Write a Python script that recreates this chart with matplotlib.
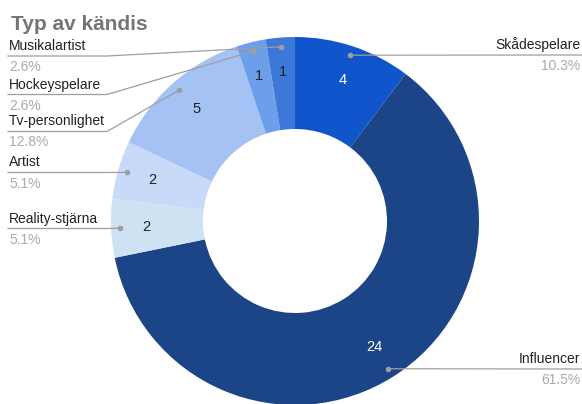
import numpy as np
import matplotlib
matplotlib.use('Agg')
import matplotlib.pyplot as plt

plt.rcParams['font.family'] = ['Liberation Sans', 'DejaVu Sans']

# data (clockwise from top)
categories = ['Skådespelare', 'Influencer', 'Reality-stjärna', 'Artist',
              'Tv-personlighet', 'Hockeyspelare', 'Musikalartist']
counts = [4, 24, 2, 2, 5, 1, 1]
colors = ['#1155cc', '#1c4587', '#cfe2f3', '#c9daf8', '#a4c2f4', '#6d9eeb', '#3c78d8']
value_colors = ['white', 'white', '#222222', '#222222', '#222222', '#222222', '#222222']

# layout (pixels, y measured from top)
W, H = 582, 404
cx, cy, R = 295, 221, 184
hole = 0.5
# label placement: side, y of leader line
label_side = ['right', 'right', 'left', 'left', 'left', 'left', 'left']
label_line_y = [55, 369, 228.5, 172.5, 131.5, 94.5, 56]
elbow_x = 107

fig = plt.figure(figsize=(W / 100, H / 100), dpi=100)
ax = fig.add_axes([0, 0, 1, 1])

wedges, _ = ax.pie(counts, colors=colors, startangle=90, counterclock=False,
                   center=(cx, H - cy), radius=R,
                   wedgeprops=dict(width=R * (1 - hole), edgecolor='none'))
ax.set_xlim(0, W)
ax.set_ylim(0, H)
ax.set_aspect('auto')
ax.axis('off')

total = sum(counts)
line_c = '#9e9e9e'
for i, w in enumerate(wedges):
    ang = np.deg2rad((w.theta1 + w.theta2) / 2)
    # value label inside wedge
    vx = cx + 0.81 * R * np.cos(ang)
    vy = H - cy + 0.81 * R * np.sin(ang)
    ax.text(vx, vy, str(counts[i]), color=value_colors[i], fontsize=10.5,
            ha='center', va='center')
    # leader dot
    dx = cx + 0.95 * R * np.cos(ang)
    dy = H - cy + 0.95 * R * np.sin(ang)
    ax.plot(dx, dy, 'o', ms=4, color=line_c, mec='none', zorder=5)
    ly = H - label_line_y[i]
    pct = '%.1f%%' % (counts[i] / total * 100)
    if label_side[i] == 'left':
        ax.plot([8, elbow_x, dx], [ly, ly, dy], color=line_c, lw=0.9, zorder=4)
        ax.text(9, ly + 6, categories[i], fontsize=10, color='#222222',
                ha='left', va='baseline')
        ax.text(9, ly - 15, pct, fontsize=10, color='#aaaaaa',
                ha='left', va='baseline')
    else:
        ax.plot([dx, W], [dy, ly], color=line_c, lw=0.9, zorder=4)
        ax.text(580, ly + 6, categories[i], fontsize=10, color='#222222',
                ha='right', va='baseline')
        ax.text(580, ly - 15, pct, fontsize=10, color='#aaaaaa',
                ha='right', va='baseline')

ax.text(11, H - 30, 'Typ av kändis', fontsize=15, fontweight='bold',
        color='#757575', ha='left', va='baseline')

fig.savefig('out.png', dpi=100)
